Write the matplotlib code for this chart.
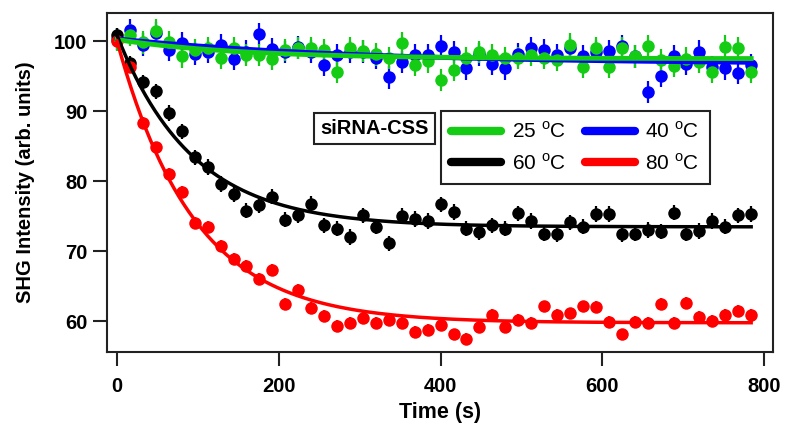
import numpy as np
import matplotlib
matplotlib.use("Agg")
import matplotlib.pyplot as plt
from matplotlib.lines import Line2D

plt.rcParams['font.family'] = ['Liberation Sans', 'DejaVu Sans']
plt.rcParams['mathtext.fontset'] = 'custom'
plt.rcParams['mathtext.rm'] = 'Liberation Sans'

# sampling times (s), one reading every 16 s
time_s = np.arange(0, 785, 16)

shg_25 = [100.2, 100.9, 99.8, 101.5, 99.8, 97.8, 98.7, 99.0, 97.6, 99.0,
          98.0, 98.0, 97.5, 98.7, 99.0, 99.0, 98.7, 95.6, 99.0, 98.6,
          98.1, 97.6, 99.7, 96.6, 97.1, 94.4, 95.9, 97.6, 98.4, 98.0,
          97.6, 97.6, 98.0, 97.6, 97.3, 99.5, 96.3, 99.0, 96.3, 99.0,
          97.8, 99.3, 97.3, 96.5, 97.5, 97.0, 95.6, 99.2, 99.0, 95.6]
shg_40 = [100.3, 101.6, 99.5, 101.1, 98.7, 99.7, 98.2, 98.4, 99.4, 97.4,
          98.5, 101.0, 98.8, 98.4, 99.1, 98.5, 96.6, 98.0, 98.4, 98.5,
          97.6, 94.8, 97.0, 98.0, 98.0, 99.3, 98.4, 96.1, 98.1, 96.7,
          96.1, 98.1, 99.0, 98.7, 98.0, 99.0, 97.9, 98.5, 98.6, 99.3,
          97.8, 92.7, 95.0, 97.8, 96.7, 98.5, 96.3, 96.1, 95.4, 96.6]
shg_60 = [100.8, 96.8, 94.1, 92.8, 89.7, 87.1, 83.4, 82.0, 79.6, 78.1,
          75.8, 76.6, 77.8, 74.5, 75.1, 76.8, 73.7, 73.2, 72.0, 75.1,
          73.5, 71.1, 75.0, 74.6, 74.3, 76.7, 75.6, 73.2, 72.7, 73.7,
          73.2, 75.4, 74.3, 72.5, 72.4, 74.1, 73.5, 75.3, 75.3, 72.4,
          72.5, 73.0, 72.8, 75.5, 72.5, 72.9, 74.3, 73.5, 75.1, 75.3]
shg_80 = [100.0, 96.3, 88.3, 84.8, 81.0, 78.5, 74.0, 73.4, 70.8, 68.9,
          67.9, 66.0, 67.3, 62.4, 64.4, 61.9, 60.8, 59.3, 59.8, 60.5,
          59.8, 60.2, 59.7, 58.5, 58.7, 59.5, 58.1, 57.4, 59.2, 60.9,
          59.2, 60.2, 59.7, 62.1, 60.9, 61.1, 62.1, 62.0, 59.9, 58.1,
          59.9, 59.7, 62.5, 59.7, 62.6, 60.6, 60.0, 60.9, 61.5, 60.9]

# error bar half-widths per series
err_25, err_40, err_60, err_80 = 1.6, 1.6, 1.1, 0.85

labels = [r'25 $^{\mathrm{o}}$C', r'40 $^{\mathrm{o}}$C',
          r'60 $^{\mathrm{o}}$C', r'80 $^{\mathrm{o}}$C']
colors = ['#14cc14', '#0000ff', 'black', '#ff0000']


def exp_fit(t, y):
    """y = y_start + d*(1 - exp(-t/tau)), start pinned to first point"""
    t = np.asarray(t, float)
    y = np.asarray(y, float)
    dy = y - y[0]
    best = None
    for tau in np.linspace(5, 2000, 4000):
        g = 1 - np.exp(-t / tau)
        d = np.dot(g, dy) / np.dot(g, g)
        r = np.sum((d * g - dy) ** 2)
        if best is None or r < best[0]:
            best = (r, d, tau)
    _, d, tau = best
    return lambda tt: y[0] + d * (1 - np.exp(-tt / tau))


fig = plt.figure(figsize=(7.85, 4.28), dpi=100)
ax = fig.add_axes([107 / 785, 1 - 352 / 428, 666 / 785, 339 / 428])

series = [(shg_40, err_40, colors[1]), (shg_25, err_25, colors[0]),
          (shg_60, err_60, colors[2]), (shg_80, err_80, colors[3])]
for y, e, c in series:
    ax.errorbar(time_s, y, yerr=e, fmt='o', color=c, ms=9, mew=0,
                elinewidth=1.6, capsize=5, capthick=1.6, zorder=3)

t_fine = np.linspace(0, time_s[-1], 400)
for y, c, lw in [(shg_40, colors[1], 3.5), (shg_25, colors[0], 3.5),
                 (shg_60, colors[2], 2.5), (shg_80, colors[3], 2.5)]:
    f = exp_fit(time_s, y)
    ax.plot(t_fine, f(t_fine), color=c, lw=lw, zorder=4)

ax.set_xlim(-12.4, 811)
ax.set_ylim(55.6, 104.0)
ax.set_xticks([0, 200, 400, 600, 800])
ax.set_yticks([60, 70, 80, 90, 100])
ax.tick_params(direction='out', length=10, width=1.5, labelsize=14.5,
               color='#222222')
ax.tick_params(axis='x', pad=8)
ax.tick_params(axis='y', pad=4)
for lab in ax.get_xticklabels() + ax.get_yticklabels():
    lab.set_fontweight('bold')
for sp in ax.spines.values():
    sp.set_linewidth(1.5)
    sp.set_color('#222222')

ax.set_xlabel('Time (s)', fontsize=15.5, fontweight='bold', labelpad=4)
ax.set_ylabel('SHG Intensity (arb. units)', fontsize=14.5, fontweight='bold',
              labelpad=14)

ax.text(0.4017, 0.659, 'siRNA-CSS', transform=ax.transAxes, fontsize=14.5,
        fontweight='bold', ha='center', va='center', zorder=6,
        bbox=dict(boxstyle='square,pad=0.3', fc='white', ec='#222222',
                  lw=1.5))

# legend filled column-wise: 25, 60 | 40, 80
order = [0, 2, 1, 3]
handles = [Line2D([], [], color=colors[i], lw=6, solid_capstyle='round')
           for i in order]
leg = ax.legend(handles, [labels[i] for i in order], ncol=2,
                loc='upper left', bbox_to_anchor=(0.5015, 0.711),
                borderaxespad=0, fontsize=15, handlelength=2.4,
                handletextpad=0.5, columnspacing=0.9, labelspacing=0.5,
                borderpad=0.5, fancybox=False, framealpha=1,
                edgecolor='#222222')
leg.get_frame().set_linewidth(1.5)
leg.set_zorder(6)

fig.savefig('out.png', dpi=100)
